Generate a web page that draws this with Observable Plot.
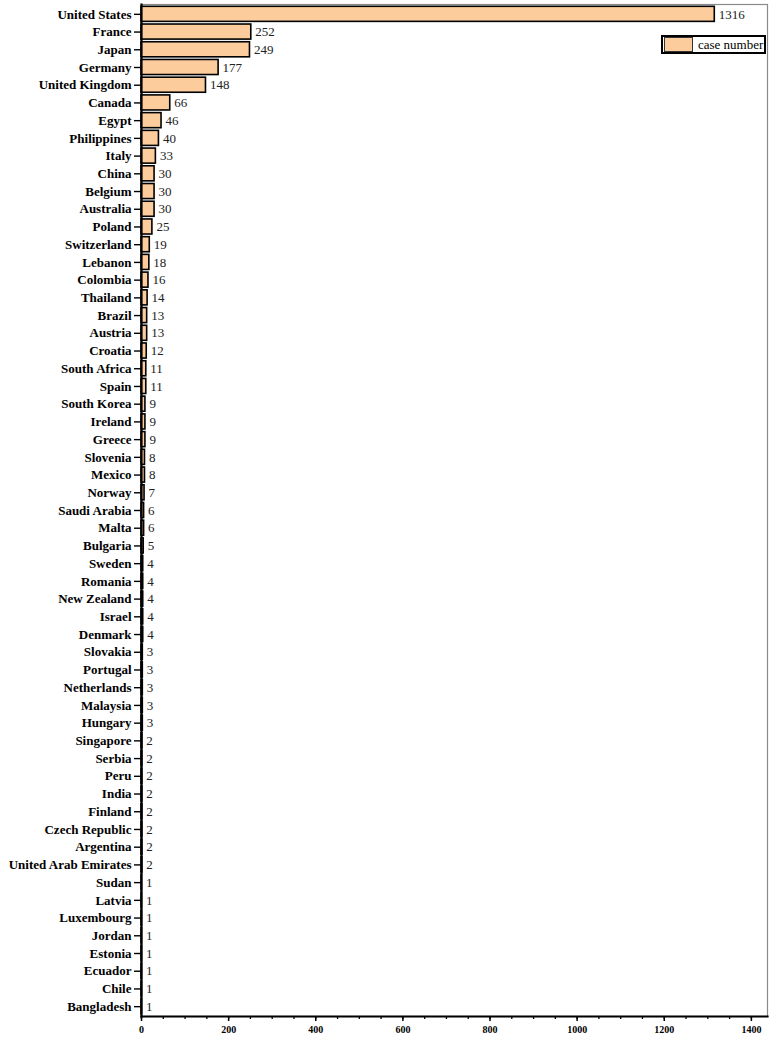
<!DOCTYPE html>
<html>
<head>
<meta charset="utf-8">
<script src="https://cdn.jsdelivr.net/npm/d3@7"></script>
<script src="https://cdn.jsdelivr.net/npm/@observablehq/plot@0.6"></script>
<style>
  html, body { margin: 0; padding: 0; background: #fff; }
  #wrap { position: relative; width: 775px; height: 1037px; }
  #legend {
    position: absolute; left: 661px; top: 35px; width: 101px; height: 15px;
    border: 2px solid #000; background: #fff;
    font-family: "Liberation Serif", "Times New Roman", serif; font-size: 13px;
    display: flex; align-items: center; box-sizing: content-box;
  }
  #legend .sw { width: 27px; height: 13px; background: #FDCC9C; border: 1px solid #333; margin-left: 1px; margin-right: 5px; }
</style>
</head>
<body>
<div id="wrap">
  <div id="chart"></div>
  <div id="legend"><span class="sw"></span><span>case number</span></div>
</div>
<script>
// Case counts per country, in display order (largest first)
const countries = [
  "United States", "France", "Japan", "Germany", "United Kingdom", "Canada", "Egypt",
  "Philippines", "Italy", "China", "Belgium", "Australia", "Poland", "Switzerland",
  "Lebanon", "Colombia", "Thailand", "Brazil", "Austria", "Croatia", "South Africa",
  "Spain", "South Korea", "Ireland", "Greece", "Slovenia", "Mexico", "Norway",
  "Saudi Arabia", "Malta", "Bulgaria", "Sweden", "Romania", "New Zealand", "Israel",
  "Denmark", "Slovakia", "Portugal", "Netherlands", "Malaysia", "Hungary", "Singapore",
  "Serbia", "Peru", "India", "Finland", "Czech Republic", "Argentina",
  "United Arab Emirates", "Sudan", "Latvia", "Luxembourg", "Jordan", "Estonia",
  "Ecuador", "Chile", "Bangladesh"
];
const cases = [
  1316, 252, 249, 177, 148, 66, 46,
  40, 33, 30, 30, 30, 25, 19,
  18, 16, 14, 13, 13, 12, 11,
  11, 9, 9, 9, 8, 8, 7,
  6, 6, 5, 4, 4, 4, 4,
  4, 3, 3, 3, 3, 3, 2,
  2, 2, 2, 2, 2, 2,
  2, 1, 1, 1, 1, 1,
  1, 1, 1
];
const majorTicks = [0, 200, 400, 600, 800, 1000, 1200, 1400];
const minorTicks = d3.range(0, 1401, 50);

const data = countries.map((c, i) => ({country: c, value: cases[i]}));
const serif = "'Liberation Serif', 'Times New Roman', serif";

const chart = Plot.plot({
  width: 775,
  height: 1037,
  marginLeft: 141,
  marginRight: 8,
  marginTop: 4,
  marginBottom: 21,
  style: {fontFamily: serif, background: "#fff"},
  x: {domain: [0, 1437]},
  y: {domain: countries, paddingInner: 0.15, paddingOuter: 0.13},
  marks: [
    Plot.frame({stroke: "#8a8a8a", strokeWidth: 1.2}),
    Plot.barX(data, {
      x: "value", y: "country",
      fill: "#FDCC9C", stroke: "#000", strokeWidth: 1.6
    }),
    Plot.text(data, {
      x: "value", y: "country", text: d => String(d.value),
      textAnchor: "start", dx: 4, fontSize: 13, fill: "#222"
    }),
    Plot.axisY({
      tickSize: 7, tickPadding: 3, label: null,
      fontSize: 13, fontWeight: "bold", fill: "#000", strokeWidth: 1.4
    }),
    Plot.axisX({
      ticks: minorTicks, tickSize: 3, text: null, label: null, strokeWidth: 1.3
    }),
    Plot.axisX({
      ticks: majorTicks, tickSize: 5, tickPadding: 4, label: null,
      tickFormat: d => String(d),
      fontSize: 10, fontWeight: "bold", fill: "#000", strokeWidth: 1.5
    }),
    Plot.frame({anchor: "left", stroke: "#000", strokeWidth: 2.2}),
    Plot.frame({anchor: "bottom", stroke: "#000", strokeWidth: 2.2})
  ]
});
document.getElementById("chart").appendChild(chart);
</script>
</body>
</html>
